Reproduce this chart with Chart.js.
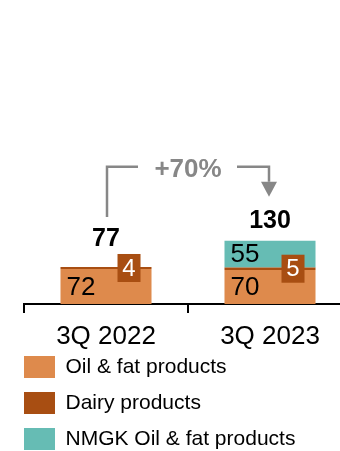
<!DOCTYPE html>
<html>
<head>
    <meta charset="UTF-8">
    <title>3Q sales volume</title>
    <script src="https://cdn.jsdelivr.net/npm/chart.js"></script>
    <style>
        html, body {
            margin: 0;
            padding: 0;
            background: #ffffff;
            overflow: hidden;
        }
        #chart-container {
            width: 360px;
            height: 470px;
        }
    </style>
</head>
<body>
<div id="chart-container">
    <canvas id="chart"></canvas>
</div>

<script>
    // Quarters and volumes per product group
    const quarters = ['3Q 2022', '3Q 2023'];
    const oilFat = [72, 70];
    const dairy = [4, 5];
    const nmgkOilFat = [null, 55];
    const totals = [77, 130];
    const growthText = '+70%';

    const seriesNames = ['Oil & fat products', 'Dairy products', 'NMGK Oil & fat products'];
    const colors = ['#de8a4c', '#a84e12', '#66bcb4'];

    const FONT = '"Liberation Sans", Arial, sans-serif';
    const GREY = '#878787';

    Chart.defaults.font.family = FONT;
    Chart.defaults.color = '#000000';

    // Values inside the segments, dairy in a small dark box, totals and the growth bracket
    const labelPlugin = {
        id: 'barLabels',
        afterLayout(chart) {
            // pull the legend up under the axis labels
            chart.legend.top -= 10;
            chart.legend.bottom -= 10;
        },
        afterDatasetsDraw(chart) {
            const ctx = chart.ctx;
            const oilMeta = chart.getDatasetMeta(0);
            const dairyMeta = chart.getDatasetMeta(1);
            const nmgkMeta = chart.getDatasetMeta(2);
            const stackTops = [];
            const boxTops = [];

            ctx.save();
            ctx.textBaseline = 'middle';

            // plain numbers, left aligned in the bar
            [[oilMeta, oilFat], [nmgkMeta, nmgkOilFat]].forEach(([meta, values]) => {
                meta.data.forEach((bar, i) => {
                    if (values[i] == null) return;
                    ctx.font = '26px ' + FONT;
                    ctx.fillStyle = '#000000';
                    ctx.textAlign = 'left';
                    ctx.fillText(String(values[i]), bar.x - bar.width / 2 + 6, (bar.y + bar.base) / 2 + 1);
                });
            });

            // dairy values in a filled box
            const boxW = 23, boxH = 28;
            dairyMeta.data.forEach((bar, i) => {
                const cx = bar.x + bar.width / 2 - 22.5;
                const cy = (bar.y + bar.base) / 2;
                ctx.fillStyle = colors[1];
                ctx.fillRect(cx - boxW / 2, cy - boxH / 2, boxW, boxH);
                ctx.font = '24px ' + FONT;
                ctx.fillStyle = '#ffffff';
                ctx.textAlign = 'center';
                ctx.fillText(String(dairy[i]), cx, cy + 1);

                let stackTop = bar.y;
                if (nmgkOilFat[i] != null) stackTop = Math.min(stackTop, nmgkMeta.data[i].y);
                stackTops.push(stackTop);
                boxTops.push(cy - boxH / 2);
            });

            // totals, clear of both the stack and the dairy box
            const totalY = [];
            ctx.font = 'bold 25px ' + FONT;
            ctx.fillStyle = '#000000';
            ctx.textAlign = 'center';
            oilMeta.data.forEach((bar, i) => {
                const y = Math.min(stackTops[i] - 20, boxTops[i] - 15);
                totalY.push(y);
                ctx.fillText(String(totals[i]), bar.x, y);
            });

            // growth bracket from the first to the second bar
            const x0 = oilMeta.data[0].x + 1;
            const x1 = oilMeta.data[1].x - 1;
            const mid = (x0 + x1) / 2;
            const bracketY = Math.min(...totalY) - 54;
            ctx.strokeStyle = GREY;
            ctx.fillStyle = GREY;
            ctx.lineWidth = 2.5;
            ctx.beginPath();
            ctx.moveTo(x0, totalY[0] - 22);
            ctx.lineTo(x0, bracketY);
            ctx.lineTo(mid - 50, bracketY);
            ctx.moveTo(mid + 49, bracketY);
            ctx.lineTo(x1, bracketY);
            ctx.lineTo(x1, totalY[1] - 39);
            ctx.stroke();
            const tip = totalY[1] - 24;
            ctx.beginPath();
            ctx.moveTo(x1 - 8, tip - 15);
            ctx.lineTo(x1 + 8, tip - 15);
            ctx.lineTo(x1, tip);
            ctx.closePath();
            ctx.fill();

            ctx.font = 'bold 26px ' + FONT;
            ctx.textAlign = 'center';
            ctx.fillText(growthText, mid, bracketY + 3);
            ctx.restore();
        }
    };

    const ctx = document.getElementById('chart').getContext('2d');

    const chart = new Chart(ctx, {
        type: 'bar',
        data: {
            labels: quarters,
            datasets: [
                { label: seriesNames[0], data: oilFat, backgroundColor: colors[0] },
                { label: seriesNames[1], data: dairy, backgroundColor: colors[1] },
                { label: seriesNames[2], data: nmgkOilFat, backgroundColor: colors[2] }
            ]
        },
        options: {
            responsive: true,
            maintainAspectRatio: false,
            animation: false,
            categoryPercentage: 0.555,
            barPercentage: 1,
            layout: {
                padding: { top: 12, left: 10, right: 8, bottom: 0 }
            },
            plugins: {
                legend: {
                    position: 'bottom',
                    align: 'start',
                    labels: {
                        boxWidth: 31,
                        boxHeight: 22,
                        padding: 14,
                        color: '#000000',
                        font: { size: 21 }
                    }
                },
                tooltip: { enabled: false }
            },
            scales: {
                x: {
                    stacked: true,
                    grid: {
                        display: true,
                        drawOnChartArea: false,
                        drawTicks: true,
                        tickLength: 9,
                        color: '#000000',
                        lineWidth: 2
                    },
                    border: { display: true, color: '#000000', width: 2 },
                    ticks: {
                        padding: 8,
                        color: '#000000',
                        font: { size: 26 }
                    },
                    afterFit: function(scale) {
                        scale.height = 48;
                    }
                },
                y: {
                    stacked: true,
                    min: 0,
                    max: 600,
                    grid: { display: false },
                    border: { display: false },
                    ticks: { display: false },
                    afterFit: function(scale) {
                        scale.width = 14;
                    }
                }
            }
        },
        plugins: [labelPlugin]
    });
</script>
</body>
</html>
